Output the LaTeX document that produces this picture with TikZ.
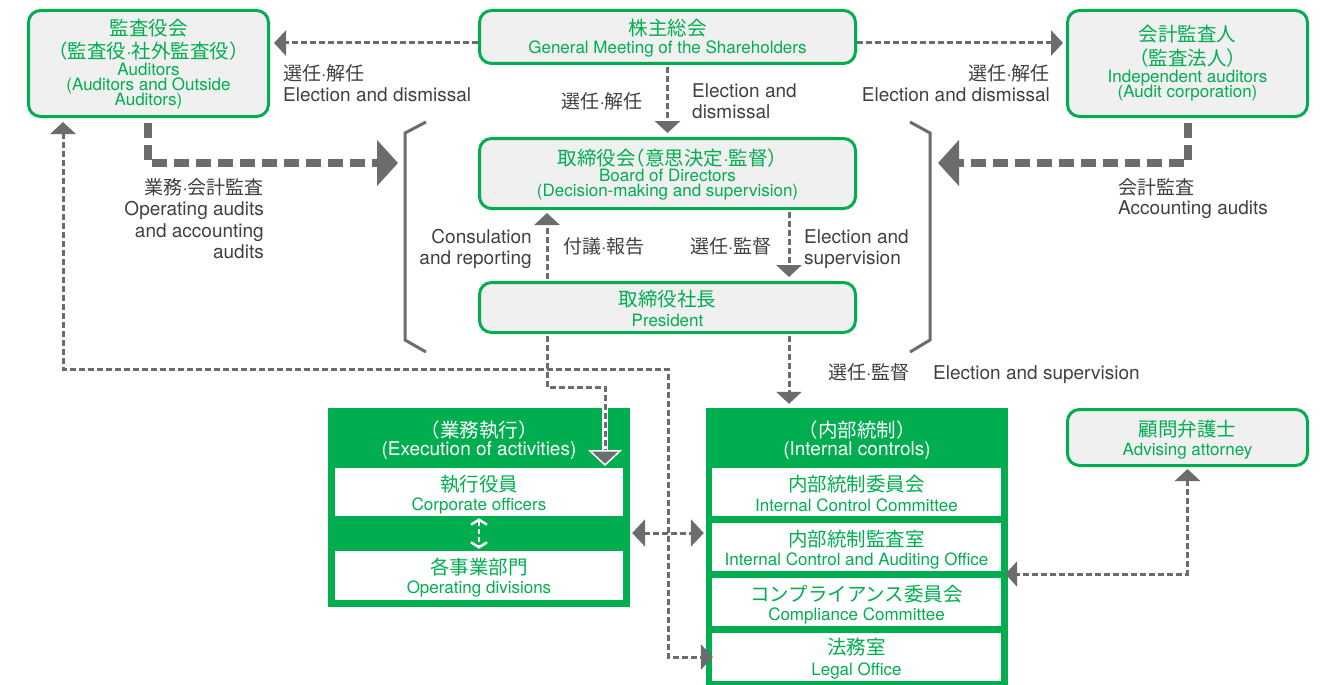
\documentclass[tikz,border=0pt]{standalone}
\usepackage{fontspec}
\setmainfont{TeX Gyre Heros}
\newfontfamily\jp{Noto Sans CJK JP}
\newfontfamily\jph{Noto Sans CJK JP}[RawFeature=+halt]
\newcommand\jdot{{\rmfamily ·}}
\newcommand\jlp{{\jph （}}
\newcommand\jrp{{\jph ）}}
\usetikzlibrary{arrows.meta}
\definecolor{grn}{RGB}{0,174,80}
\definecolor{boxgray}{RGB}{240,240,240}
\definecolor{agray}{RGB}{108,108,108}
\definecolor{tgray}{RGB}{64,64,64}
\tikzset{
  rbox/.style={draw=grn, line width=3pt, fill=boxgray, rounded corners=12pt, inner sep=0pt},
  gbox/.style={fill=grn, inner sep=0pt},
  wbox/.style={fill=white, inner sep=0pt},
  jg/.style={anchor=base, text=grn, font=\jp\fontsize{19.5}{20}\selectfont, inner sep=0pt},
  eg/.style={anchor=base, text=grn, font=\fontsize{17}{18}\selectfont, inner sep=0pt},
  jw/.style={anchor=base, text=white, font=\jp\fontsize{19.5}{20}\selectfont, inner sep=0pt},
  ew/.style={anchor=base, text=white, font=\fontsize{19}{20}\selectfont, inner sep=0pt},
  jt/.style={text=tgray, font=\jp\fontsize{19}{20}\selectfont, inner sep=0pt},
  et/.style={text=tgray, font=\fontsize{19}{20}\selectfont, inner sep=0pt},
  dtip/.tip={Triangle[width=25pt,length=12pt]},
  btip/.tip={Triangle[width=27pt,length=13pt]},
  ttip/.tip={Triangle[width=45pt,length=21pt]},
  dotline/.style={draw=agray, line width=3pt, dash pattern=on 6pt off 3pt},
  thickline/.style={draw=agray, line width=7.5pt, dash pattern=on 15pt off 7pt},
  brk/.style={draw=agray, line width=3pt},
}
\begin{document}
\begin{tikzpicture}[x=1pt,y=-1pt]
\useasboundingbox (0,0) rectangle (1326,685);

% ---------- boxes ----------
\node[rbox, minimum width=240pt, minimum height=106pt] (aud) at (148.5,63.5) {};
\node[rbox, minimum width=376pt, minimum height=53pt] (gm) at (667.5,37) {};
\node[rbox, minimum width=240pt, minimum height=106pt] (ind) at (1187.5,63.5) {};
\node[rbox, minimum width=376pt, minimum height=70pt] (bod) at (667.5,173.5) {};
\node[rbox, minimum width=376pt, minimum height=50pt] (pres) at (667.5,307.5) {};
\node[rbox, minimum width=240pt, minimum height=56pt] (att) at (1187.5,437.5) {};

\node[gbox, minimum width=302pt, minimum height=199pt] (exec) at (479,507.5) {};
\node[wbox, minimum width=288pt, minimum height=48pt] (co) at (479,492) {};
\node[wbox, minimum width=288pt, minimum height=49pt] (od) at (479,575.5) {};

\node[gbox, minimum width=302pt, minimum height=277pt] (ic) at (857,546.5) {};
\node[wbox, minimum width=289pt, minimum height=48pt] (icc) at (856.5,492) {};
\node[wbox, minimum width=289pt, minimum height=48pt] (icao) at (856.5,547) {};
\node[wbox, minimum width=289pt, minimum height=48pt] (cc) at (856.5,602) {};
\node[wbox, minimum width=289pt, minimum height=48pt] (lo) at (856.5,657) {};

% ---------- box texts ----------
\node[jg] (aud1) at (148.5,36) {監査役会};
\node[jg] (aud2) at (148.5,59) {\jlp 監査役\jdot 社外監査役\jrp};
\node[eg] (aud3) at (148.5,76) {Auditors};
\node[eg] (aud4) at (148.5,91) {(Auditors and Outside};
\node[eg] (aud5) at (148.5,106) {Auditors)};

\node[jg] (gm1) at (667.5,36) {株主総会};
\node[eg] (gm2) at (667.5,54) {General Meeting of the Shareholders};

\node[jg] (ind1) at (1187.5,42) {会計監査人};
\node[jg] (ind2) at (1187.5,66) {\jlp 監査法人\jrp};
\node[eg] (ind3) at (1187.5,82) {Independent auditors};
\node[eg] (ind4) at (1187.5,97) {(Audit corporation)};

\node[jg] (bod1) at (667.5,165) {取締役会\jlp 意思決定\jdot 監督\jrp};
\node[eg] (bod2) at (667.5,181) {Board of Directors};
\node[eg] (bod3) at (667.5,196) {(Decision-making and supervision)};

\node[jg] (pres1) at (667.5,306) {取締役社長};
\node[eg] (pres2) at (667.5,326) {President};

\node[jw] (exec1) at (479,437) {\jlp 業務執行\jrp};
\node[ew] (exec2) at (479,455) {(Execution of activities)};
\node[jg] (co1) at (479,491) {執行役員};
\node[eg] (co2) at (479,510) {Corporate officers};
\node[jg] (od1) at (479,574) {各事業部門};
\node[eg] (od2) at (479,593) {Operating divisions};

\node[jw] (ic1) at (857,437) {\jlp 内部統制\jrp};
\node[ew] (ic2) at (857,455) {(Internal controls)};
\node[jg] (icc1) at (856.5,491) {内部統制委員会};
\node[eg] (icc2) at (856.5,511) {Internal Control Committee};
\node[jg] (icao1) at (856.5,546) {内部統制監査室};
\node[eg] (icao2) at (856.5,565) {Internal Control and Auditing Office};
\node[jg] (cc1) at (856.5,601) {コンプライアンス委員会};
\node[eg] (cc2) at (856.5,620) {Compliance Committee};
\node[jg] (lo1) at (856.5,654) {法務室};
\node[eg] (lo2) at (856.5,675) {Legal Office};

\node[jg] (att1) at (1187.5,436) {顧問弁護士};
\node[eg] (att2) at (1187.5,455) {Advising attorney};

% ---------- gray labels ----------
\node[jt, anchor=base west] (l1a) at (283,81) {選任\jdot 解任};
\node[et, anchor=base west] (l1b) at (283,101) {Election and dismissal};
\node[jt, anchor=base east] (l2a) at (643,109) {選任\jdot 解任};
\node[et, anchor=base west] (l2b) at (692,98) {Election and};
\node[et, anchor=base west] (l2c) at (692,118) {dismissal};
\node[jt, anchor=base east] (l3a) at (1050,81) {選任\jdot 解任};
\node[et, anchor=base east] (l3b) at (1050,101) {Election and dismissal};

\node[jt, anchor=base east] (l4a) at (264,194) {業務\jdot 会計監査};
\node[et, anchor=base east] (l4b) at (264,215) {Operating audits};
\node[et, anchor=base east] (l4c) at (264,237) {and accounting};
\node[et, anchor=base east] (l4d) at (264,258) {audits};
\node[jt, anchor=base west] (l5a) at (1118,194) {会計監査};
\node[et, anchor=base west] (l5b) at (1118,214) {Accounting audits};

\node[et, anchor=base east] (l6a) at (532,243) {Consulation};
\node[et, anchor=base east] (l6b) at (532,264) {and reporting};
\node[jt, anchor=base west] (l7) at (563,253) {付議\jdot 報告};
\node[jt, anchor=base west] (l8) at (690,253) {選任\jdot 監督};
\node[et, anchor=base west] (l9a) at (804,243) {Election and};
\node[et, anchor=base west] (l9b) at (804,264) {supervision};
\node[jt, anchor=base west] (l10a) at (828,379) {選任\jdot 監督};
\node[et, anchor=base west] (l10b) at (933,379) {Election and supervision};

% ---------- brackets ----------
\draw[brk] (426,122) -- (405,133) -- (405,340) -- (426,352);
\draw[brk] (910,122) -- (930,133) -- (930,340) -- (910,352);

% ---------- named free ends ----------
\coordinate (lbrk) at (398,163);
\coordinate (rbrk) at (938,163);
\coordinate (exectip) at (605,466);
\coordinate (lbend) at (668,369);

% ---------- connectors ----------
\draw[dotline, -dtip, shorten >=4pt] ([yshift=-6pt]gm.west) -- ([yshift=-6pt]gm.west -| aud.east);
\draw[dotline, -dtip, shorten >=3pt] ([yshift=-6pt]gm.east) -- ([yshift=-6pt]gm.east -| ind.west);
\draw[dotline, -dtip, shorten <=2pt, shorten >=4pt] (gm.south) -- (bod.north);
\draw[dotline, -dtip, shorten <=2pt, shorten >=3pt] ([xshift=-120.5pt]pres.north) -- ([xshift=-120.5pt]bod.south);
\draw[dotline, -dtip, shorten <=2pt, shorten >=4pt] ([xshift=121.5pt]bod.south) -- ([xshift=121.5pt]pres.north);
\draw[dotline, -dtip, shorten <=2pt, shorten >=4pt] ([xshift=121.5pt]pres.south) -- ([xshift=121.5pt]pres.south |- ic.north);

% president to execution
\draw[white, line width=6.5pt] (exectip |- exec.north) -- ([yshift=10pt]exectip);
\draw[dotline, -{Triangle[width=34pt,length=16pt,fill=agray,color=white,line width=1.5pt]}, shorten <=2pt]
  ([xshift=-120.5pt]pres.south) -- ++(0,53) -| (exectip);

% auditors to legal office
\draw[dotline, dtip-dtip, shorten <=4pt, shorten >=-1pt] ([xshift=-85.5pt]aud.south) |- (lbend) |- (lo.west);

% execution <-> internal controls
\draw[dotline, btip-btip, shorten <=2pt, shorten >=2pt] ([yshift=-25.5pt]exec.east) -- ([yshift=-25.5pt]exec.east -| ic.west);

% corporate officers <-> operating divisions
\draw[white, line width=2.8pt, dash pattern=on 5pt off 3pt,
  {Straight Barb[width=16pt,length=5pt,line width=2.5pt]}-{Straight Barb[width=16pt,length=5pt,line width=2.5pt]},
  shorten <=2pt, shorten >=2pt] (co.south) -- (od.north);

% attorney <-> internal controls
\draw[dotline, dtip-dtip, shorten <=2pt, shorten >=-3pt] (att.south) |- ([yshift=-27.5pt]ic.east);

% thick audit arrows
\draw[thickline, -ttip, shorten <=5pt] ([xshift=-0.5pt]aud.south) |- (lbrk);
\draw[thickline, -ttip, shorten <=5pt] ([xshift=0.5pt]ind.south) |- (rbrk);
\end{tikzpicture}
\end{document}
